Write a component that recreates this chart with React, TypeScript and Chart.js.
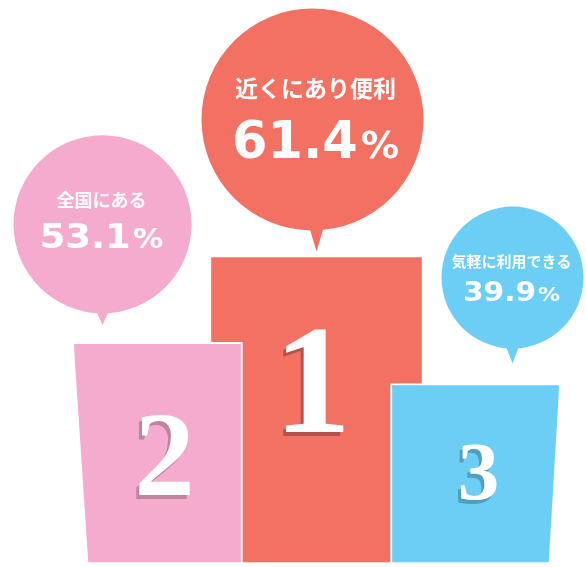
import React, { useEffect, useRef } from 'react';
import { Chart, registerables } from 'chart.js';

Chart.register(...registerables);

// ---- data ----
const ranks = ['2', '1', '3'];
const bubbleLabels = ['全国にある', '近くにあり便利', '気軽に利用できる'];
const percentages = [53.1, 61.4, 39.9];
const podiumHeights = [39.3, 54.7, 32.0];

// ---- styles ----
const colors = ['#F5ABCD', '#F27162', '#6DCEF5'];
const shadowColors = ['#C0849F', '#B5524A', '#4E9FC0'];
const barWidths = [170, 214, 170];

const bubbleLayout = [
  { dx: -55, cy: -118, r: 89, tipGap: 17, tdx: 0, textDx: -1, labelSize: 18, labelDy: -24, valueSize: 33, pctSize: 27, valueDy: 24, sx: 1.12 },
  { dx: -4, cy: -136, r: 111, tipGap: 4, tdx: 4, textDx: 3, labelSize: 23, labelDy: -31, valueSize: 51, pctSize: 38, valueDy: 39, sx: 1.0 },
  { dx: 37, cy: -106, r: 71, tipGap: 20, tdx: 0, textDx: -1, labelSize: 15, labelDy: -16, valueSize: 27, pctSize: 20, valueDy: 23, sx: 1.1 },
];
const numeralLayout = [
  { dx: 7, baseline: 153, size: 121 },
  { dx: -4, baseline: 177, size: 155 },
  { dx: 3, baseline: 115, size: 83 },
];
// trapezoid cut (insets at top / bottom) for side podiums
const cuts = [
  { side: 'left', top: 0, bottom: 15 },
  null,
  { side: 'right', top: 0, bottom: 11 },
];

function drawValue(ctx: CanvasRenderingContext2D, text: string, cx: number, baseline: number, size: number, pctSize: number, sx: number) {
  ctx.font = `bold ${size}px "DejaVu Sans"`;
  const w1 = ctx.measureText(text).width;
  ctx.font = `bold ${pctSize}px "DejaVu Sans"`;
  const w2 = ctx.measureText('%').width;
  const gap = size * 0.06;
  const total = (w1 + gap + w2) * sx;
  ctx.save();
  ctx.translate(cx - total / 2, baseline);
  ctx.scale(sx, 1);
  ctx.textAlign = 'left';
  ctx.textBaseline = 'alphabetic';
  ctx.fillStyle = '#fff';
  ctx.font = `bold ${size}px "DejaVu Sans"`;
  ctx.fillText(text, 0, 0);
  ctx.font = `bold ${pctSize}px "DejaVu Sans"`;
  ctx.fillText('%', w1 + gap, 0);
  ctx.restore();
}

const podiumPlugin = {
  id: 'podium',
  afterDatasetsDraw(chart: any) {
    const ctx: CanvasRenderingContext2D = chart.ctx;
    ctx.save();
    for (let i = 0; i < ranks.length; i++) {
      const el: any = chart.getDatasetMeta(i).data[i];
      if (!el) continue;
      const left = el.x - el.width / 2;
      const right = el.x + el.width / 2;
      const top = el.y;
      const base = el.base;
      // trapezoid cut
      const c = cuts[i];
      if (c) {
        ctx.fillStyle = '#fff';
        ctx.beginPath();
        if (c.side === 'left') {
          ctx.moveTo(left - 2, top - 2);
          ctx.lineTo(left + c.top + 1, top - 2);
          ctx.lineTo(left + c.bottom + 1, base + 2);
          ctx.lineTo(left - 2, base + 2);
        } else {
          ctx.moveTo(right + 2, top - 2);
          ctx.lineTo(right - c.top - 1, top - 2);
          ctx.lineTo(right - c.bottom - 1, base + 2);
          ctx.lineTo(right + 2, base + 2);
        }
        ctx.closePath();
        ctx.fill();
      }
      // numeral
      const n = numeralLayout[i];
      ctx.font = `bold ${n.size}px "Liberation Serif"`;
      ctx.textAlign = 'center';
      ctx.textBaseline = 'alphabetic';
      ctx.fillStyle = shadowColors[i];
      ctx.fillText(ranks[i], el.x + n.dx - 3, top + n.baseline + 4);
      ctx.fillStyle = '#fff';
      ctx.fillText(ranks[i], el.x + n.dx, top + n.baseline);

      // bubble
      const b = bubbleLayout[i];
      const cx = el.x + b.dx;
      const cy = top + b.cy;
      const tipX = el.x + b.dx + b.tdx;
      const tipY = top - b.tipGap;
      ctx.fillStyle = colors[i];
      ctx.beginPath();
      ctx.arc(cx, cy, b.r, 0, Math.PI * 2);
      ctx.fill();
      ctx.beginPath();
      ctx.moveTo(tipX - 8, cy + b.r - 6);
      ctx.lineTo(tipX + 8, cy + b.r - 6);
      ctx.lineTo(tipX, tipY);
      ctx.closePath();
      ctx.fill();
      // label
      ctx.fillStyle = '#fff';
      ctx.font = `bold ${b.labelSize}px "Noto Sans CJK JP"`;
      ctx.textAlign = 'center';
      ctx.textBaseline = 'middle';
      ctx.fillText(bubbleLabels[i], cx + b.textDx, cy + b.labelDy);
      drawValue(ctx, percentages[i].toFixed(1), cx + b.textDx, cy + b.valueDy, b.valueSize, b.pctSize, b.sx);
    }
    ctx.restore();
  },
};

export default function App() {
  const ref = useRef<HTMLCanvasElement>(null);
  useEffect(() => {
    const datasets = ranks.map((r, i) => ({
      label: `${r}位`,
      data: ranks.map((_, j) => (j === i ? podiumHeights[i] : null)),
      backgroundColor: colors[i],
      borderColor: '#ffffff',
      borderWidth: 2,
      borderSkipped: false as const,
      barThickness: barWidths[i],
      grouped: false,
      order: i === 1 ? 2 : 1,
      clip: false as any,
    }));
    const chart = new Chart(ref.current!, {
      type: 'bar',
      data: { labels: ranks, datasets },
      options: {
        animation: false,
        responsive: false,
        devicePixelRatio: 1,
        layout: { padding: { left: 78, right: 31, top: 0, bottom: 3 } },
        scales: {
          x: { display: false },
          y: { display: false, min: 0, max: 100 },
        },
        plugins: { legend: { display: false }, tooltip: { enabled: false } },
      },
      plugins: [podiumPlugin],
    });
    return () => chart.destroy();
  }, []);
  return (
    <div style={{ position: 'absolute', left: 0, top: 0, width: 586, height: 567, background: '#fff' }}>
      <canvas ref={ref} width={586} height={567} style={{ display: 'block' }} />
    </div>
  );
}
